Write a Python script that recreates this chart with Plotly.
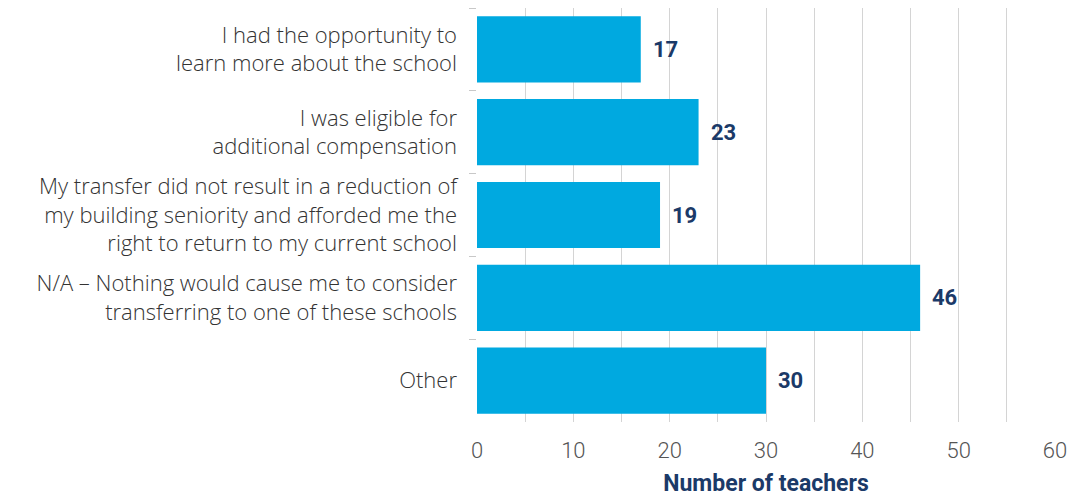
import plotly.graph_objects as go

categories = [
    "I had the opportunity to<br>learn more about the school",
    "I was eligible for<br>additional compensation",
    "My transfer did not result in a reduction of<br>my building seniority and afforded me the<br>right to return to my current school",
    "N/A – Nothing would cause me to consider<br>transferring to one of these schools",
    "Other",
]
values = [17, 23, 19, 46, 30]
x_ticks = [0, 10, 20, 30, 40, 50, 60]

BAR = "#00a9e0"
NAVY = "#1b3a68"

fig = go.Figure(go.Bar(
    y=categories, x=values, orientation="h",
    marker=dict(color=BAR, line=dict(width=0)),
    width=0.8, hoverinfo="skip",
))

for c, v in zip(categories, values):
    fig.add_annotation(
        x=v, y=c, text=str(v), showarrow=False,
        xanchor="left", xshift=10,
        font=dict(family="Roboto", size=22, color=NAVY, weight=700),
    )

fig.update_layout(
    width=1071, height=497,
    margin=dict(l=477, r=16, t=8, b=75),
    paper_bgcolor="white", plot_bgcolor="white",
    showlegend=False,
    bargap=0.2,
    font=dict(family="Open Sans"),
)
fig.update_xaxes(
    range=[0, 60], automargin=False,
    tickvals=x_ticks, ticktext=[str(t) for t in x_ticks],
    showgrid=True, gridcolor="#d4d4d4", gridwidth=1.3,
    zeroline=False, showline=False, ticks="",
    ticklabelstandoff=13,
    tickfont=dict(family="Roboto", size=22, color="#555555", weight=300),
    title=dict(text="Number of teachers", standoff=12,
               font=dict(family="Roboto", size=23, color=NAVY, weight=700)),
)
fig.update_xaxes(minor=dict(dtick=5, showgrid=True, gridcolor="#d4d4d4", gridwidth=1.3, tick0=0))
fig.update_yaxes(
    autorange="reversed", automargin=False, showgrid=False, zeroline=False, showline=False,
    ticks="outside", tickson="boundaries", ticklen=7, tickcolor="#c8c8c8", tickwidth=1.3,
    ticklabelstandoff=19,
    tickfont=dict(family="Open Sans", size=22, color="#333333", weight=300),
)

fig.write_html(
    "out.html",
    config={"displayModeBar": False},
    post_script="document.body.style.margin='0';document.body.style.overflow='hidden';",
)
